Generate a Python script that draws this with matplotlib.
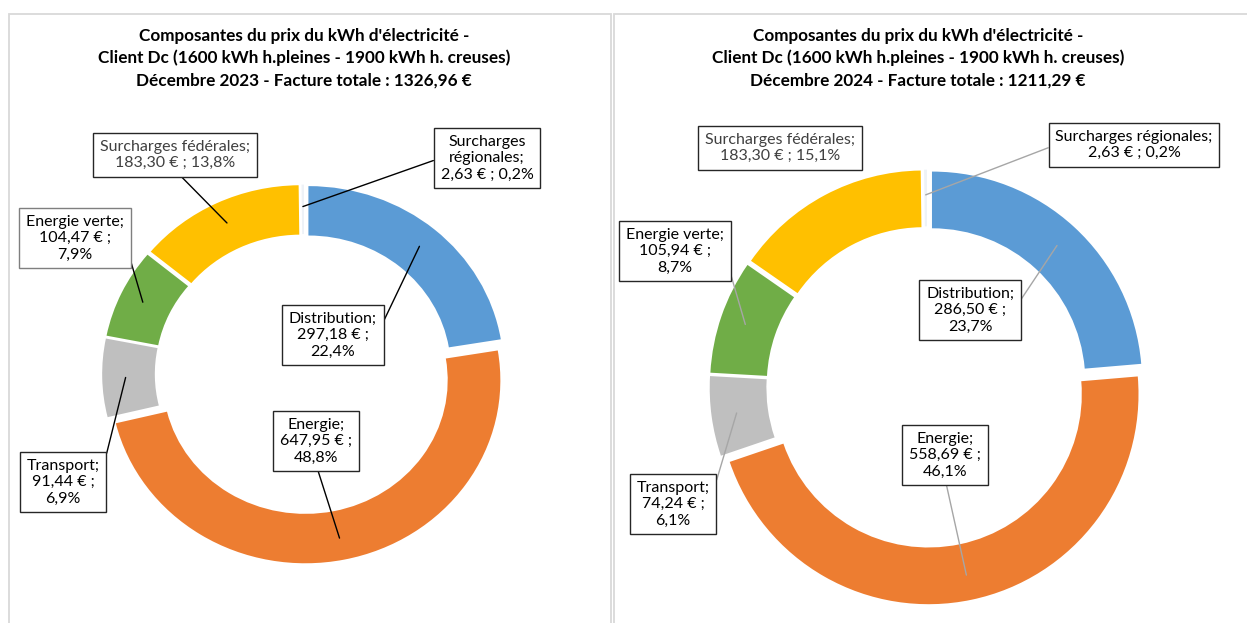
import matplotlib.pyplot as plt
from matplotlib.patches import Rectangle
import numpy as np

plt.rcParams['font.family'] = ['Lato', 'DejaVu Sans']

categories = ['Distribution', 'Energie', 'Transport', 'Energie verte',
              'Surcharges fédérales', 'Surcharges régionales']
colors = ['#5b9bd5', '#ed7d31', '#bfbfbf', '#70ad47', '#ffc000', '#eef2f7']

values_2023 = [297.18, 647.95, 91.44, 104.47, 183.30, 2.63]
pct_2023 = ['22,4%', '48,8%', '6,9%', '7,9%', '13,8%', '0,2%']
values_2024 = [286.50, 558.69, 74.24, 105.94, 183.30, 2.63]
pct_2024 = ['23,7%', '46,1%', '6,1%', '8,7%', '15,1%', '0,2%']

titles = ["Composantes du prix du kWh d'électricité -\n"
          "Client Dc (1600 kWh h.pleines - 1900 kWh h. creuses)\n"
          "Décembre 2023 - Facture totale : 1326,96 €",
          "Composantes du prix du kWh d'électricité -\n"
          "Client Dc (1600 kWh h.pleines - 1900 kWh h. creuses)\n"
          "Décembre 2024 - Facture totale : 1211,29 €"]


def fmt(v):
    return f"{v:.2f}".replace('.', ',') + " €"


# label texts (line breaks as in the reference)
labels_2023 = [
    f"Distribution;\n{fmt(values_2023[0])} ;\n{pct_2023[0]}",
    f"Energie;\n{fmt(values_2023[1])} ;\n{pct_2023[1]}",
    f"Transport;\n{fmt(values_2023[2])} ;\n{pct_2023[2]}",
    f"Energie verte;\n{fmt(values_2023[3])} ;\n{pct_2023[3]}",
    f"Surcharges fédérales;\n{fmt(values_2023[4])} ; {pct_2023[4]}",
    f"Surcharges\nrégionales;\n{fmt(values_2023[5])} ; {pct_2023[5]}",
]
labels_2024 = [
    f"Distribution;\n{fmt(values_2024[0])} ;\n{pct_2024[0]}",
    f"Energie;\n{fmt(values_2024[1])} ;\n{pct_2024[1]}",
    f"Transport;\n{fmt(values_2024[2])} ;\n{pct_2024[2]}",
    f"Energie verte;\n{fmt(values_2024[3])} ;\n{pct_2024[3]}",
    f"Surcharges fédérales;\n{fmt(values_2024[4])} ; {pct_2024[4]}",
    f"Surcharges régionales;\n{fmt(values_2024[5])} ; {pct_2024[5]}",
]

W, H = 1247, 623
fig = plt.figure(figsize=(W / 100, H / 100), dpi=100)

# panel frames
for x0, x1 in [(9, 611), (614, 1260)]:
    fig.patches.append(Rectangle((x0 / W, -0.1), (x1 - x0) / W, 1 - 14 / H + 0.1,
                                 transform=fig.transFigure, fill=False,
                                 ec='#d9d9d9', lw=1.3))

# layout per chart: centre px, radius px, title x, label box centres px, line colour
charts = [
    dict(values=values_2023, labels=labels_2023, title=titles[0],
         cx=304, cy=374, rx=195, ry=183, tx=304,
         boxes=[(333, 335), (316, 441), (63, 482), (75, 238), (175, 155), (487, 158)],
         lc='#000000', noline=[]),
    dict(values=values_2024, labels=labels_2024, title=titles[1],
         cx=927, cy=387, rx=210, ry=210, tx=918,
         boxes=[(970, 310), (945, 455), (673, 504), (675, 251), (780, 148), (1134, 145)],
         lc='#a6a6a6', noline=[4]),
]

L = 1.25
for ch in charts:
    hw, hh = ch['rx'] * L, ch['ry'] * L
    ax = fig.add_axes([(ch['cx'] - hw) / W, (H - ch['cy'] - hh) / H, 2 * hw / W, 2 * hh / H])
    wedges, _ = ax.pie(ch['values'], colors=colors, startangle=90, counterclock=False,
                       explode=[0.035] * 6, radius=1,
                       wedgeprops=dict(width=0.27, edgecolor='white', linewidth=0))
    ax.set_aspect('auto')
    ax.set_xlim(-L, L)
    ax.set_ylim(-L, L)
    ax.axis('off')
    fig.text(ch['tx'] / W, 1 - 58 / H, ch['title'], ha='center', va='center',
             fontsize=12.3, fontweight='bold', linespacing=1.45, color='#000000')
    for i, w in enumerate(wedges):
        ang = np.deg2rad((w.theta1 + w.theta2) / 2)
        px = w.center[0] + 0.88 * np.cos(ang)
        py = w.center[1] + 0.88 * np.sin(ang)
        bx, by = ch['boxes'][i]
        txt_color = '#404040' if i == 4 else '#000000'
        edge = '#7f7f7f' if (i == 3 and ch is charts[0]) else '#262626'
        # attach the leader to the box side facing the point
        pt_px = ch['cx'] + px * ch['rx']
        pt_py = ch['cy'] - py * ch['ry']
        if abs(pt_px - bx) > 60:
            rel = (1, 0.5) if pt_px > bx else (0, 0.5)
        else:
            rel = (0.5, 0) if pt_py > by else (0.5, 1)
        arrow = None
        if i not in ch['noline']:
            arrow = dict(arrowstyle='-', color=ch['lc'], lw=1,
                         relpos=rel, shrinkA=0, shrinkB=0)
        ax.annotate(ch['labels'][i], xy=(px, py),
                    xytext=(bx / W, 1 - by / H), textcoords='figure fraction',
                    ha='center', va='center', fontsize=11.5, color=txt_color,
                    linespacing=1.22,
                    bbox=dict(boxstyle='square,pad=0.42', fc='white', ec=edge, lw=1),
                    arrowprops=arrow, annotation_clip=False)

fig.savefig('out.png', dpi=100)
